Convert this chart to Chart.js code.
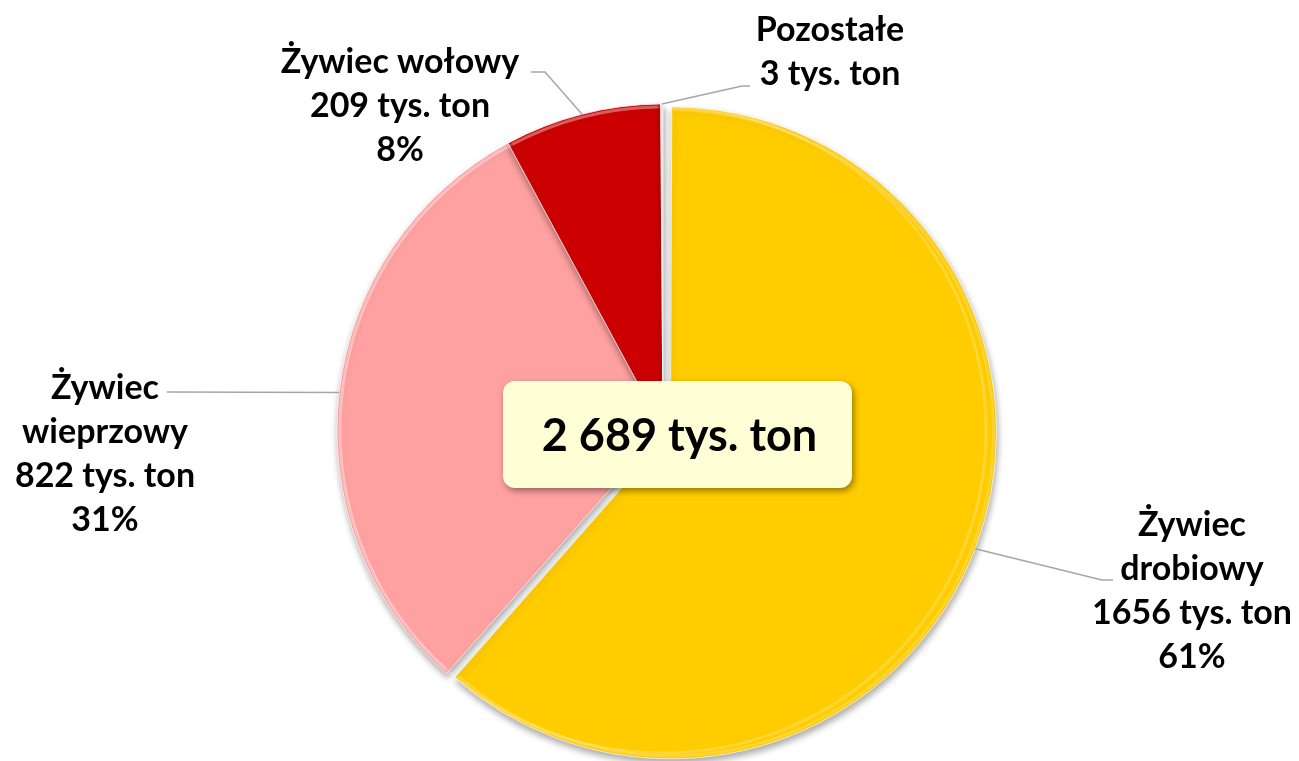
<!DOCTYPE html>
<html>
<head>
<meta charset="utf-8">
<script src="https://cdn.jsdelivr.net/npm/chart.js@4/dist/chart.umd.min.js"></script>
<style>
    body { margin: 0; background: #fff; }
    canvas { display: block; }
</style>
</head>
<body>
<canvas id="meatChart" width="1299" height="761"></canvas>
<script>
// dane z wykresu
var categories = ['Żywiec drobiowy', 'Żywiec wieprzowy', 'Żywiec wołowy', 'Pozostałe'];
var values = [1656, 822, 209, 3];
var percentLabels = ['61%', '31%', '8%', ''];
var totalLabel = '2 689 tys. ton';

var sliceColors = ['#FFCC00', '#FFA1A1', '#CC0000', '#E8E8E8'];
var fontFamily = 'Lato, "Open Sans", sans-serif';
var explodePx = 8; // wysunięcie wycinka drobiowego

// etykiety: linie tekstu, środek x, y pierwszej linii, załamania linii odniesienia
var labelLayout = [
    { lines: ['Żywiec', 'drobiowy', values[0] + ' tys. ton', percentLabels[0]], x: 1192, y: 525, lineEnd: [[1102, 580], [1113, 580]] },
    { lines: ['Żywiec', 'wieprzowy', values[1] + ' tys. ton', percentLabels[1]], x: 105, y: 388, lineEnd: [[167, 392]] },
    { lines: ['Żywiec wołowy', values[2] + ' tys. ton', percentLabels[2]], x: 400, y: 62, lineEnd: [[545, 72], [531, 72]] },
    { lines: ['Pozostałe', values[3] + ' tys. ton'], x: 830, y: 30, lineEnd: [[742, 86], [750, 86]] }
];

var labelsPlugin = {
    id: 'sliceLabels',
    afterDatasetsUpdate: function(chart) {
        // Chart.js powiększa promień wysuniętego wycinka o offset/4 - cofamy to
        var arcs = chart.getDatasetMeta(0).data;
        arcs[0].outerRadius -= explodePx;
    },
    beforeDatasetsDraw: function(chart) {
        var ctx = chart.ctx;
        ctx.save();
        ctx.shadowColor = 'rgba(0,0,0,0.35)';
        ctx.shadowBlur = 7;
        ctx.shadowOffsetX = 1;
        ctx.shadowOffsetY = 4;
    },
    afterDatasetsDraw: function(chart) {
        var ctx = chart.ctx;
        ctx.restore();
        var arcs = chart.getDatasetMeta(0).data;

        // geometria wycinka tak, jak został narysowany
        function drawnArc(arc, i) {
            var p = arc.getProps(['x', 'y', 'startAngle', 'endAngle', 'outerRadius']);
            var mid = (p.startAngle + p.endAngle) / 2;
            var off = i === 0 ? explodePx : 0;
            return {
                cx: p.x + Math.cos(mid) * off,
                cy: p.y + Math.sin(mid) * off,
                r: p.outerRadius + off,
                mid: mid,
                start: p.startAngle,
                end: p.endAngle
            };
        }

        // lekki efekt wypukłości na krawędziach
        arcs.forEach(function(arc, i) {
            var a = drawnArc(arc, i);
            ctx.save();
            ctx.beginPath();
            ctx.arc(a.cx, a.cy, a.r - 3, a.start + 0.01, a.end - 0.01);
            ctx.strokeStyle = 'rgba(255,255,255,0.2)';
            ctx.lineWidth = 3;
            ctx.stroke();
            ctx.restore();
        });

        // linie odniesienia i etykiety
        arcs.forEach(function(arc, i) {
            var a = drawnArc(arc, i);
            var sx = a.cx + Math.cos(a.mid) * a.r;
            var sy = a.cy + Math.sin(a.mid) * a.r;
            var lay = labelLayout[i];
            ctx.save();
            ctx.strokeStyle = '#A6A6A6';
            ctx.lineWidth = 1.5;
            ctx.beginPath();
            ctx.moveTo(sx, sy);
            lay.lineEnd.forEach(function(pt) { ctx.lineTo(pt[0], pt[1]); });
            ctx.stroke();

            ctx.fillStyle = '#000';
            ctx.font = 'bold 34px ' + fontFamily;
            ctx.textAlign = 'center';
            ctx.textBaseline = 'middle';
            lay.lines.forEach(function(t, k) {
                if (t) ctx.fillText(t, lay.x, lay.y + k * 44);
            });
            ctx.restore();
        });

        // ramka z sumą w środku
        var bx = 503, by = 381, bw = 349, bh = 107;
        ctx.save();
        ctx.shadowColor = 'rgba(0,0,0,0.4)';
        ctx.shadowBlur = 6;
        ctx.shadowOffsetX = 2;
        ctx.shadowOffsetY = 3;
        ctx.fillStyle = '#FFFFD6';
        ctx.beginPath();
        ctx.roundRect(bx, by, bw, bh, 12);
        ctx.fill();
        ctx.restore();
        ctx.save();
        ctx.fillStyle = '#000';
        ctx.font = 'bold 45px ' + fontFamily;
        ctx.textAlign = 'center';
        ctx.textBaseline = 'middle';
        ctx.fillText(totalLabel, bx + bw / 2 + 2, by + bh / 2 + 2);
        ctx.restore();
    }
};

var ctx = document.getElementById('meatChart').getContext('2d');
var myChart = new Chart(ctx, {
    type: 'pie',
    data: {
        labels: categories,
        datasets: [{
            data: values,
            backgroundColor: sliceColors,
            borderColor: 'rgba(255,255,255,0.7)',
            borderWidth: 1,
            offset: [explodePx * 4, 0, 0, 0] // Chart.js dzieli offset przez 4
        }]
    },
    options: {
        responsive: false,
        animation: false,
        radius: 326,
        layout: {
            padding: { left: 27, right: 0, top: 99, bottom: 0 }
        },
        plugins: {
            legend: { display: false },
            tooltip: { enabled: false }
        }
    },
    plugins: [labelsPlugin]
});
</script>
</body>
</html>
